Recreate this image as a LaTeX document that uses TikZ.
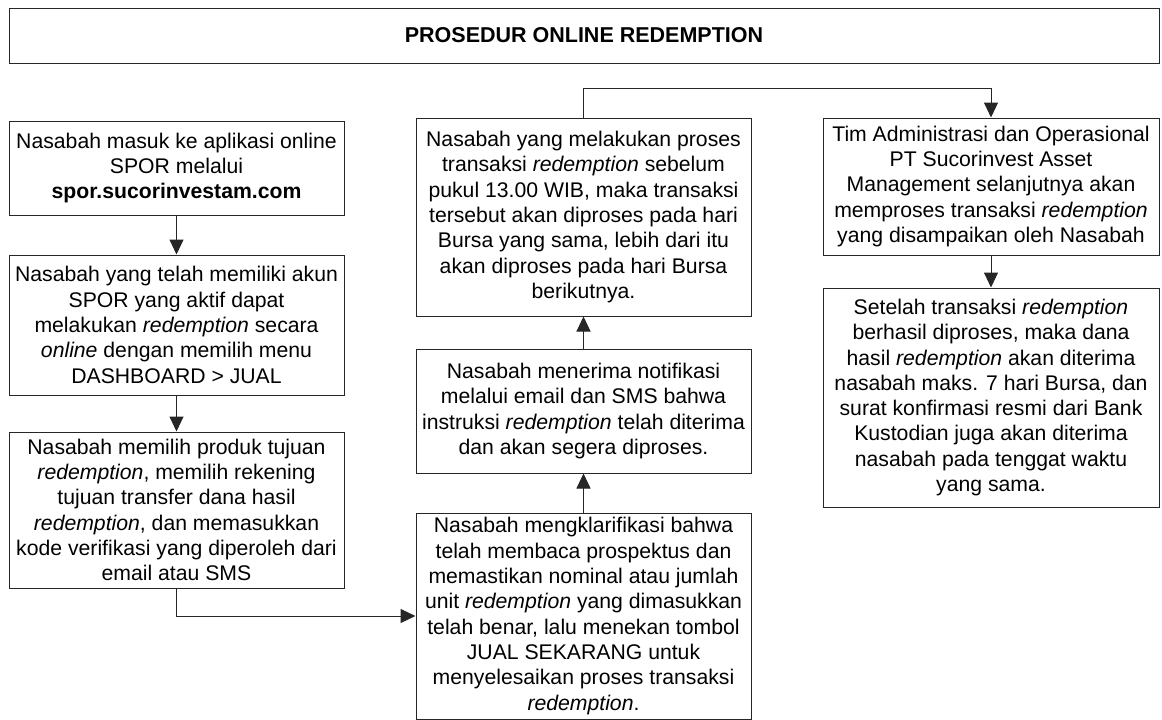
\documentclass[tikz,border=0pt]{standalone}
\usepackage{fontspec}
\setmainfont{Liberation Sans}
\usetikzlibrary{arrows.meta}

\begin{document}
\begin{tikzpicture}[
					x = 1pt, y = -1pt,
					every node/.style = {
						shape = rectangle,
						draw = black!85,
						line width = 1pt,
						inner sep = 0pt,
						align = center,
						font = \fontsize{21.2}{25.3}\selectfont,
						minimum width = 335pt,
					},
					arr/.style = {
						draw = black!85,
						line width = 1pt,
						-{Triangle[length=15pt, width=14pt]},
					},
			]
				\useasboundingbox (0, 0) rectangle (1162, 720);

				\draw (584, 35.5) node (t) [minimum width = 1150pt, minimum height = 55pt, font = \fontsize{21.5}{24}\selectfont\bfseries] {PROSEDUR ONLINE REDEMPTION};

				\draw (176.5, 168) node (a1) [minimum height = 94pt] {Nasabah masuk ke aplikasi online\\ SPOR melalui\\ \textbf{spor.sucorinvestam.com}};
				\draw (176.5, 325) node (a2) [minimum height = 140pt] {Nasabah yang telah memiliki akun\\ SPOR yang aktif dapat\\ melakukan \textit{redemption} secara\\ \textit{online} dengan memilih menu\\ DASHBOARD > JUAL};
				\draw (176.5, 510) node (a3) [minimum height = 156pt] {Nasabah memilih produk tujuan\\ \textit{redemption}, memilih rekening\\ tujuan transfer dana hasil\\ \textit{redemption}, dan memasukkan\\ kode verifikasi yang diperoleh dari\\ email atau SMS};

				\draw (583.5, 616) node (b1) [minimum height = 206pt] {Nasabah mengklarifikasi bahwa\\ telah membaca prospektus dan\\ memastikan nominal atau jumlah\\ unit \textit{redemption} yang dimasukkan\\ telah benar, lalu menekan tombol\\ JUAL SEKARANG untuk\\ menyelesaikan proses transaksi\\ \textit{redemption}.};
				\draw (583.5, 411) node (b2) [minimum height = 124pt] {Nasabah menerima notifikasi\\ melalui email dan SMS bahwa\\ instruksi \textit{redemption} telah diterima\\ dan akan segera diproses.};
				\draw (583.5, 217) node (b3) [minimum height = 198pt] {Nasabah yang melakukan proses\\ transaksi \textit{redemption} sebelum\\ pukul 13.00 WIB, maka transaksi\\ tersebut akan diproses pada hari\\ Bursa yang sama, lebih dari itu\\ akan diproses pada hari Bursa\\ berikutnya.};

				\draw (991, 186.5) node (c1) [minimum width = 336pt, minimum height = 137pt] {Tim Administrasi dan Operasional\\ PT Sucorinvest Asset\\ Management selanjutnya akan\\ memproses transaksi \textit{redemption}\\ yang disampaikan oleh Nasabah};
				\draw (991, 397.5) node (c2) [minimum width = 336pt, minimum height = 219pt] {Setelah transaksi \textit{redemption}\\ berhasil diproses, maka dana\\ hasil \textit{redemption} akan diterima\\ nasabah maks. 7 hari Bursa, dan\\ surat konfirmasi resmi dari Bank\\ Kustodian juga akan diterima\\ nasabah pada tenggat waktu\\ yang sama.};

				\draw [arr] (a1) -- (a2);
				\draw [arr] (a2) -- (a3);
				\draw [arr] (a3.south) |- (b1.west);
				\draw [arr] (b1) -- (b2);
				\draw [arr] (b2) -- (b3);
				\draw [arr] (b3.north) -- ++(0, -29) -| (c1.north);
				\draw [arr] (c1) -- (c2);
			\end{tikzpicture}
\end{document}
